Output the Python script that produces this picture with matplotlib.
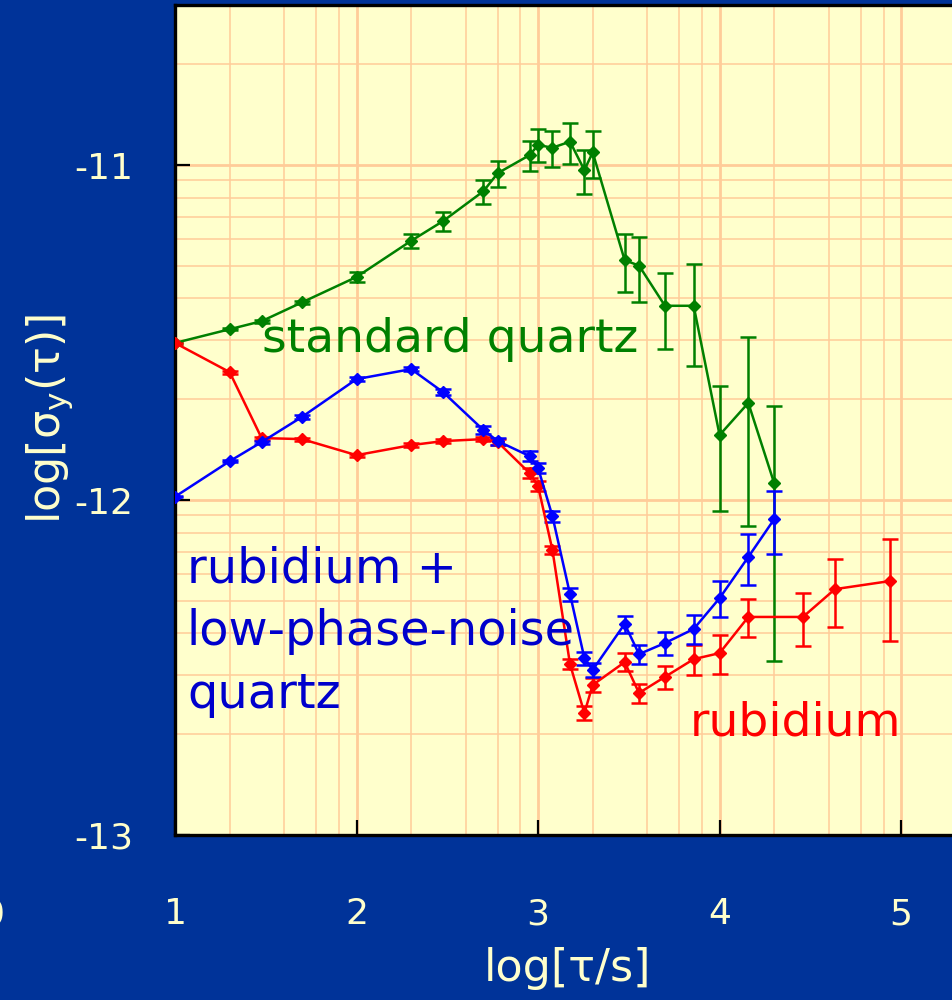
import numpy as np
import matplotlib
matplotlib.use('Agg')
import matplotlib.pyplot as plt
from matplotlib.ticker import FixedLocator

plt.rcParams['font.family'] = ['DejaVu Sans']
plt.rcParams['axes.unicode_minus'] = False
plt.rcParams['mathtext.default'] = 'regular'

BG_BLUE = '#003399'
PAPER = '#FFFFCC'
GRID = '#FFCC99'

# averaging time tau in seconds, log10 of Allan deviation, relative error bar
quartz_tau = [10, 20, 30, 50, 100, 200, 300, 500, 600, 900, 1000, 1200,
              1500, 1800, 2000, 3000, 3600, 5000, 7200, 10000, 14400, 20000]
quartz_y = [-11.531, -11.490, -11.466, -11.410, -11.334, -11.226, -11.167,
            -11.078, -11.024, -10.970, -10.940, -10.948, -10.930, -11.015,
            -10.962, -11.284, -11.300, -11.420, -11.420, -11.806, -11.710,
            -11.950]
quartz_err = [0.005, 0.008, 0.010, 0.012, 0.034, 0.050, 0.067, 0.083, 0.090,
              0.105, 0.113, 0.125, 0.140, 0.150, 0.160, 0.195, 0.220, 0.255,
              0.337, 0.405, 0.570, 0.706]

lpn_tau = [10, 20, 30, 50, 100, 200, 300, 500, 600, 900, 1000, 1200,
           1500, 1800, 2000, 3000, 3600, 5000, 7200, 10000, 14400, 20000]
lpn_y = [-11.990, -11.884, -11.827, -11.752, -11.639, -11.609, -11.678,
         -11.791, -11.824, -11.869, -11.904, -12.048, -12.281, -12.472,
         -12.507, -12.370, -12.460, -12.427, -12.385, -12.293, -12.170,
         -12.057]
lpn_err = [0.005, 0.008, 0.010, 0.012, 0.012, 0.015, 0.020, 0.025, 0.025,
           0.034, 0.032, 0.037, 0.046, 0.046, 0.048, 0.060, 0.065, 0.081,
           0.100, 0.122, 0.175, 0.215]

rb_tau = [10, 20, 30, 50, 100, 200, 300, 500, 600, 900, 1000, 1200, 1500,
          1800, 2000, 3000, 3600, 5000, 7200, 10000, 14400, 28800, 43200, 86400]
rb_y = [-11.531, -11.618, -11.815, -11.818, -11.866, -11.836, -11.824,
        -11.818, -11.827, -11.920, -11.958, -12.149, -12.490, -12.636,
        -12.552, -12.484, -12.576, -12.528, -12.475, -12.457, -12.349,
        -12.349, -12.266, -12.242]
rb_err = [0.005, 0.010, 0.010, 0.010, 0.010, 0.012, 0.015, 0.015, 0.020,
          0.034, 0.032, 0.028, 0.034, 0.048, 0.050, 0.062, 0.067, 0.081,
          0.104, 0.133, 0.131, 0.180, 0.227, 0.338]

x_ticks = [1, 2, 3, 4, 5]
x_ticklabels = ['1', '2', '3', '4', '5']
y_ticks = [-13, -12, -11]
y_ticklabels = ['-13', '-12', '-11']


def log_errs(rel):
    rel = np.asarray(rel)
    return np.vstack([-np.log10(1 - rel), np.log10(1 + rel)])


fig = plt.figure(figsize=(9.52, 10), dpi=100, facecolor=BG_BLUE)
ax = fig.add_axes([175 / 952, 165 / 1000, 786 / 952, 830 / 1000])
ax.set_facecolor(PAPER)
ax.set_xlim(1, 5.33)
ax.set_ylim(-13, -10.522)

# log-style grid: x minors at 2,4,6,8 ; y minors at 2..9
x_minor = [d + np.log10(k) for d in range(1, 6) for k in (2, 4, 6, 8)]
y_minor = [d + np.log10(k) for d in range(-13, -10) for k in range(2, 10)]
ax.xaxis.set_minor_locator(FixedLocator(x_minor))
ax.yaxis.set_minor_locator(FixedLocator(y_minor))
ax.grid(which='minor', color=GRID, lw=1.1, zorder=0)
ax.grid(which='major', color=GRID, lw=2.0, zorder=0)
ax.set_axisbelow(True)

series = [
    (quartz_tau, quartz_y, quartz_err, '#008000'),
    (rb_tau, rb_y, rb_err, '#FF0000'),
    (lpn_tau, lpn_y, lpn_err, '#0000FF'),
]
for tau, y, err, col in series:
    ax.errorbar(np.log10(tau), y, yerr=log_errs(err), color=col, lw=1.8,
                marker='D', ms=6, elinewidth=1.8, capsize=5.5, capthick=1.8,
                zorder=3)

ax.set_xticks(x_ticks)
ax.set_xticklabels(x_ticklabels)
ax.set_yticks(y_ticks)
ax.set_yticklabels(y_ticklabels)
ax.tick_params(which='major', direction='in', length=11, width=1.6,
               color='black', labelcolor=PAPER, labelsize=26)
ax.tick_params(axis='x', pad=45)
ax.tick_params(axis='y', pad=30)
ax.tick_params(which='minor', length=0)
for side in ('top', 'left', 'bottom', 'right'):
    ax.spines[side].set_linewidth(2.4)
    ax.spines[side].set_color('black')

# stray "0" label sitting left of the axes
ax.text(0, -45 / 72 * 100 / 830, '0', transform=ax.get_xaxis_transform(),
        ha='center', va='top', color=PAPER, fontsize=26, clip_on=False)

fig.text(568 / 952, 0.032, 'log[τ/s]', color=PAPER, fontsize=32,
         ha='center', va='center')
fig.text(50 / 952, 0.581, r'log[$\mathrm{σ_y}$(τ)]', color=PAPER,
         fontsize=32, rotation=90, ha='center', va='center')

ax.text(1.48, -11.558, 'standard quartz', color='#008000', fontsize=34,
        va='baseline', zorder=4)
for line, ypos in zip(['rubidium +', 'low-phase-noise', 'quartz'],
                      [-12.245, -12.433, -12.621]):
    ax.text(1.066, ypos, line, color='#0000CC', fontsize=34.5, va='baseline',
            zorder=4)
ax.text(3.837, -12.704, 'rubidium', color='#FF0000', fontsize=34,
        va='baseline', zorder=4)

fig.savefig('out.png', dpi=100, facecolor=BG_BLUE)
